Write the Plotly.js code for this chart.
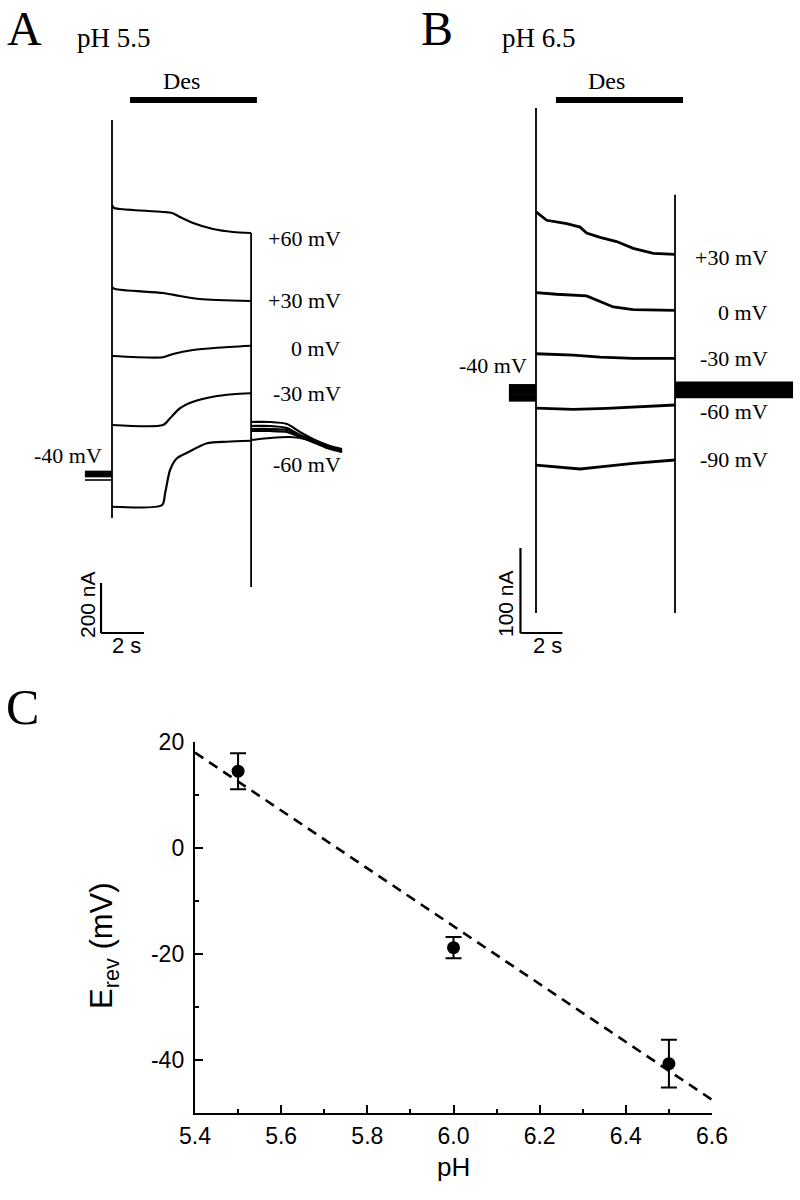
<!DOCTYPE html>
<html><head><meta charset="utf-8">
<script src="https://cdn.plot.ly/plotly-3.0.1.min.js"></script>
<style>html,body{margin:0;padding:0;background:#fff}#chart{width:800px;height:1200px}</style>
</head><body><div id="chart"></div>
<script>
// ---------- Panel A (pH 5.5): time in s (0 = voltage step), current in nA (relative to holding) ----------
const a60_t = [0,0.09,0.37,2.37,2.79,3.16,3.77,4.70,5.63,6.47];
const a60_i = [1076,1064,1060,1048,1044,1028,1004,980,968,964];
const a30_t = [0,0.14,2.37,3.16,4.09,6.47];
const a30_i = [748,740,724,712,700,692];
const a0_t = [0,2.37,2.84,3.77,4.88,6.47];
const a0_i = [472,467,480,496,505,513];
const am30_t = [0,2.37,2.70,3.16,3.77,4.70,5.63,6.47];
const am30_i = [196,196,223,263,289,309,319,323];
const am60_t = [0,2.33,2.47,2.70,3.02,3.49,4.42,5.35,6.47];
const am60_i = [-131,-124,-77,16,63,85,123,129,133];
const aTail_t = [6.47,7.35,8.14,8.74,9.44,10.14,10.70];
const aTail60_i = [208,208,200,168,136,112,100];
const aTail30_i = [192,192,184,156,132,108,96];
const aTail0_i = [180,180,176,152,128,104,92];
const aTailm30_i = [172,172,168,148,124,100,88];
const aTailm60_t = [6.47,7.35,8.28,8.98,9.67,10.37,10.70];
const aTailm60_i = [136,144,148,140,124,100,88];
const aHold_t = [-1.26, 0];
const aHold_i = [9,3,-3,-9,-24];
const aOn_t = 0,    aOn_i = [1416,-176];
const aOff_t = 6.47, aOff_i = [964,-452];
const aDes = [0.84, 6.74];
const aScaleOrigin = [-0.51, -636];
const aScale = [2, 200];      // 2 s, 200 nA
const aLabels = ['+60 mV','+30 mV','0 mV','-30 mV','-60 mV'];

// ---------- Panel B (pH 6.5) ----------
const b30_t = [0,0.51,1.46,2.10,2.41,3.05,3.84,4.63,5.59,6.62];
const b30_i = [212,202,198,194,187,182,177,169,163,162];
const b0_t = [0,0.98,2.41,3.05,3.68,4.63,6.62];
const b0_i = [117,115,113,106,100,97,96];
const bm30_t = [0,1.78,3.05,4.63,6.62];
const bm30_i = [45,43.5,41,39.6,39.6];
const bm60_t = [0,1.78,3.37,4.95,6.62];
const bm60_i = [-19,-20.4,-19.2,-17.3,-15.3];
const bm90_t = [0,0.98,2.10,3.05,4.63,6.62];
const bm90_i = [-86,-88,-90.6,-88,-84,-80];
const bHoldPre_t = [-1.29, 0];
const bHoldPre_i = [7,3,-1,-5,-9];
const bHoldPost_t = [6.62, 12.24];
const bHoldPost_i = [10,6,2,-2,-5];
const bOn_t = 0,    bOn_i = [334,-260];
const bOff_t = 6.62, bOff_i = [232,-260];
const bDes = [0.95, 7.0];
const bScaleOrigin = [-0.74, -283.5];
const bScale = [2, 100];      // 2 s, 100 nA
const bLabels = ['+30 mV','0 mV','-30 mV','-60 mV','-90 mV'];

// ---------- Panel C ----------
const pH = [5.5, 6.0, 6.5];
const Erev = [14.5, -18.8, -40.7];
const ErevErr = [3.4, 2.0, 4.5];
const fitPH = [5.4, 6.6];
const fitE = [18.0, -47.5];
const xTicks = [5.4,5.6,5.8,6.0,6.2,6.4,6.6];
const yTicks = [-40,-20,0,20];

// ---------- helpers (layout only) ----------
const W = 800, H = 1200;
const px = x => x / W;
const py = y => 1 - y / H;
const SERIF = 'Liberation Serif, Times New Roman, serif';
const SANS = 'Liberation Sans, Arial, sans-serif';

const traces = [];
function line(x, y, xa, ya, w, smooth) {
  const ln = {color: 'black', width: w};
  if (smooth) { ln.shape = 'spline'; ln.smoothing = 0.7; }
  traces.push({x: x, y: y, xaxis: xa, yaxis: ya, type: 'scatter', mode: 'lines',
    line: ln, hoverinfo: 'skip', showlegend: false});
}
// Panel A
[[a60_t,a60_i],[a30_t,a30_i],[a0_t,a0_i],[am30_t,am30_i],[am60_t,am60_i]].forEach(p => line(p[0], p[1], 'x', 'y', 2.2, true));
[aTail60_i, aTail30_i, aTail0_i, aTailm30_i].forEach(i => line(aTail_t, i, 'x', 'y', 2.2, true));
line(aTailm60_t, aTailm60_i, 'x', 'y', 2, true);
aHold_i.forEach((v, k) => line(aHold_t, [v, v], 'x', 'y', k === 4 ? 1.6 : 2.2));
line([aOn_t, aOn_t], aOn_i, 'x', 'y', 1.8);
line([aOff_t, aOff_t], aOff_i, 'x', 'y', 1.8);
// Panel B
[[b30_t,b30_i],[b0_t,b0_i],[bm30_t,bm30_i],[bm60_t,bm60_i],[bm90_t,bm90_i]].forEach(p => line(p[0], p[1], 'x2', 'y2', 2.8));
bHoldPre_i.forEach(v => line(bHoldPre_t, [v, v], 'x2', 'y2', 4));
bHoldPost_i.forEach(v => line(bHoldPost_t, [v, v], 'x2', 'y2', 4));
line([bOn_t, bOn_t], bOn_i, 'x2', 'y2', 1.8);
line([bOff_t, bOff_t], bOff_i, 'x2', 'y2', 1.8);
// Panel C
traces.push({x: fitPH, y: fitE, xaxis: 'x3', yaxis: 'y3', type: 'scatter', mode: 'lines',
  line: {color: 'black', width: 2.6, dash: '10px,7px'}, hoverinfo: 'skip', showlegend: false});
traces.push({x: pH, y: Erev, xaxis: 'x3', yaxis: 'y3', type: 'scatter', mode: 'markers',
  marker: {color: 'black', size: 13},
  error_y: {type: 'data', array: ErevErr, visible: true, color: 'black', thickness: 2, width: 8},
  hoverinfo: 'skip', showlegend: false, cliponaxis: false});

const hidden = {visible: false, showgrid: false, zeroline: false, fixedrange: true};
const shapes = [
  {type: 'line', xref: 'x', yref: 'paper', x0: aDes[0], x1: aDes[1], y0: py(100), y1: py(100), line: {color: 'black', width: 6}},
  {type: 'line', xref: 'x2', yref: 'paper', x0: bDes[0], x1: bDes[1], y0: py(100), y1: py(100), line: {color: 'black', width: 6}},
  {type: 'line', xref: 'x', yref: 'y', x0: aScaleOrigin[0], x1: aScaleOrigin[0], y0: aScaleOrigin[1], y1: aScaleOrigin[1] + aScale[1], line: {color: 'black', width: 2.2}},
  {type: 'line', xref: 'x', yref: 'y', x0: aScaleOrigin[0], x1: aScaleOrigin[0] + aScale[0], y0: aScaleOrigin[1], y1: aScaleOrigin[1], line: {color: 'black', width: 2.2}},
  {type: 'line', xref: 'x2', yref: 'y2', x0: bScaleOrigin[0], x1: bScaleOrigin[0], y0: bScaleOrigin[1], y1: bScaleOrigin[1] + bScale[1], line: {color: 'black', width: 2.2}},
  {type: 'line', xref: 'x2', yref: 'y2', x0: bScaleOrigin[0], x1: bScaleOrigin[0] + bScale[0], y0: bScaleOrigin[1], y1: bScaleOrigin[1], line: {color: 'black', width: 2.2}}
];

function ann(text, x, y, size, family, xanchor, extra) {
  return Object.assign({text: text, xref: 'paper', yref: 'paper', x: px(x), y: py(y),
    xanchor: xanchor || 'center', yanchor: 'middle', showarrow: false,
    font: {family: family, size: size, color: 'black'}}, extra || {});
}
const aLabelY = [238, 300, 349, 393, 464];
const bLabelY = [258, 312, 358, 411, 460];
const annotations = [
  ann('A', 24, 0, 48, SERIF, 'center', {yanchor: 'top'}),
  ann('B', 437, 0, 48, SERIF, 'center', {yanchor: 'top'}),
  ann('C', 22, 707, 50, SERIF),
  ann('pH 5.5', 75, 38, 27, SERIF, 'left'), ann('pH 6.5', 500, 38, 27, SERIF, 'left'),
  ann('Des', 181, 81, 24, SERIF), ann('Des', 606, 81, 24, SERIF),
  ann('-40 mV', 104, 455, 22, SERIF, 'right'), ann('-40 mV', 529, 365, 22, SERIF, 'right'),
  ann('200 nA', 87, 605, 21, SANS, 'center', {textangle: -90}),
  ann('2 s', 126, 645, 22, SANS), ann('100 nA', 506, 603, 21, SANS, 'center', {textangle: -90}),
  ann('2 s', 547, 645, 22, SANS),
  ann('E<sub>rev</sub> (mV)', 104, 946, 31, SANS, 'center', {textangle: -90}),
  ann('pH', 453, 1167, 26, SANS)
];
aLabels.forEach((t, k) => annotations.push(ann(t, 343, aLabelY[k], 22, SERIF, 'right')));
bLabels.forEach((t, k) => annotations.push(ann(t, 770, bLabelY[k], 22, SERIF, 'right')));

const layout = {
  width: W, height: H, margin: {l: 0, r: 0, t: 0, b: 0},
  paper_bgcolor: 'white', plot_bgcolor: 'rgba(0,0,0,0)', showlegend: false,
  xaxis: Object.assign({domain: [0, 0.5], range: [-112/21.5, 288/21.5], anchor: 'y'}, hidden),
  yaxis: Object.assign({domain: [py(680), 1], range: [(474-680)*4, 474*4], anchor: 'x'}, hidden),
  xaxis2: Object.assign({domain: [0.5, 1], range: [(400-536)/21, (800-536)/21], anchor: 'y2'}, hidden),
  yaxis2: Object.assign({domain: [py(680), 1], range: [(392-680)/0.85, 392/0.85], anchor: 'x2'}, hidden),
  xaxis3: {domain: [px(195), px(712)], range: [5.4, 6.6], anchor: 'y3',
    showline: true, linewidth: 2.2, linecolor: 'black', mirror: false, showgrid: false, zeroline: false,
    ticks: 'inside', ticklen: 8, tickwidth: 2, tickcolor: 'black',
    tickvals: xTicks, ticktext: xTicks.map(v => v.toFixed(1)),
    minor: {ticks: 'inside', ticklen: 4, tickwidth: 2, tickcolor: 'black', dtick: 0.1, tick0: 5.4, showgrid: false},
    tickfont: {family: SANS, size: 23, color: 'black'}, ticklabelstandoff: 1, fixedrange: true},
  yaxis3: {domain: [py(1113), py(742)], range: [-50, 20], anchor: 'x3',
    showline: true, linewidth: 2.2, linecolor: 'black', mirror: false, showgrid: false, zeroline: false,
    ticks: 'inside', ticklen: 8, tickwidth: 2, tickcolor: 'black',
    tickvals: yTicks, ticktext: yTicks.map(String),
    minor: {ticks: 'inside', ticklen: 4, tickwidth: 2, tickcolor: 'black', dtick: 10, tick0: 0, showgrid: false},
    tickfont: {family: SANS, size: 23, color: 'black'}, ticklabelstandoff: 4, fixedrange: true},
  shapes: shapes, annotations: annotations
};
Plotly.newPlot('chart', traces, layout, {staticPlot: true, displayModeBar: false});
</script></body></html>
